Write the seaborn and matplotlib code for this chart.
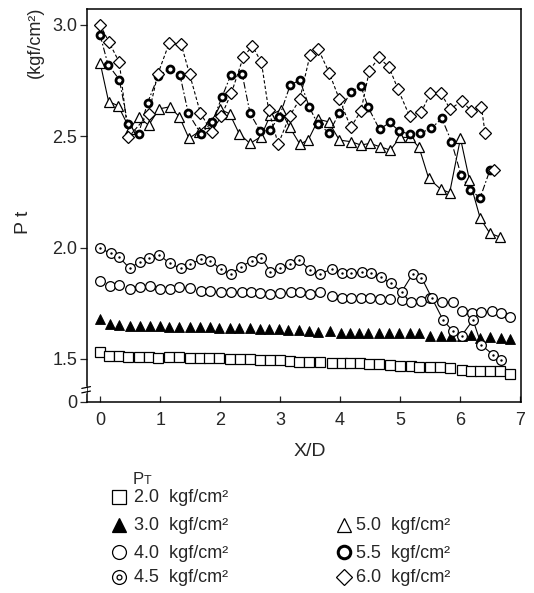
import numpy as np
import matplotlib
matplotlib.use("Agg")
import matplotlib.pyplot as plt
import matplotlib.transforms as mtransforms
import seaborn as sns

# P_T = 2.0 (open squares)
x_20 = [0.0, 0.14, 0.31, 0.47, 0.64, 0.81, 0.97, 1.14, 1.32, 1.49, 1.66, 1.82, 1.99, 2.16,
        2.33, 2.5, 2.67, 2.83, 3.0, 3.16, 3.32, 3.49, 3.66, 3.86, 4.03, 4.17, 4.33, 4.48,
        4.65, 4.83, 5.0, 5.18, 5.32, 5.5, 5.67, 5.83, 6.03, 6.18, 6.34, 6.5, 6.67, 6.83]
y_20 = [1.533, 1.513, 1.513, 1.510, 1.507, 1.507, 1.506, 1.507, 1.507, 1.506, 1.506, 1.503,
        1.503, 1.500, 1.498, 1.498, 1.495, 1.495, 1.495, 1.491, 1.488, 1.488, 1.485, 1.480,
        1.480, 1.480, 1.480, 1.478, 1.476, 1.473, 1.469, 1.469, 1.466, 1.466, 1.466, 1.461,
        1.451, 1.448, 1.446, 1.448, 1.448, 1.433]

# P_T = 3.0 (filled triangles)
x_30 = [0.0, 0.16, 0.32, 0.49, 0.66, 0.83, 1.0, 1.15, 1.31, 1.49, 1.67, 1.83, 1.99, 2.16,
        2.32, 2.5, 2.67, 2.82, 2.99, 3.14, 3.31, 3.49, 3.64, 3.84, 4.01, 4.16, 4.31, 4.47,
        4.65, 4.81, 4.98, 5.17, 5.32, 5.5, 5.69, 5.86, 6.03, 6.18, 6.34, 6.51, 6.68, 6.83]
y_30 = [1.679, 1.655, 1.652, 1.648, 1.648, 1.648, 1.648, 1.645, 1.645, 1.645, 1.642, 1.642,
        1.640, 1.637, 1.637, 1.637, 1.634, 1.634, 1.633, 1.630, 1.630, 1.626, 1.623, 1.627,
        1.618, 1.618, 1.615, 1.615, 1.615, 1.615, 1.615, 1.615, 1.615, 1.603, 1.603, 1.603,
        1.603, 1.607, 1.593, 1.597, 1.593, 1.589]

# P_T = 4.0 (open circles)
x_40 = [0.0, 0.16, 0.31, 0.49, 0.67, 0.83, 0.99, 1.16, 1.32, 1.49, 1.68, 1.83, 2.01, 2.18,
        2.36, 2.51, 2.67, 2.84, 3.0, 3.18, 3.33, 3.5, 3.66, 3.86, 4.04, 4.19, 4.35, 4.5,
        4.67, 4.84, 5.03, 5.19, 5.36, 5.51, 5.71, 5.88, 6.04, 6.21, 6.36, 6.53, 6.68, 6.83]
y_40 = [1.850, 1.827, 1.832, 1.812, 1.824, 1.827, 1.812, 1.812, 1.824, 1.817, 1.805, 1.805,
        1.802, 1.800, 1.802, 1.802, 1.797, 1.791, 1.794, 1.799, 1.802, 1.791, 1.800, 1.782,
        1.772, 1.772, 1.772, 1.772, 1.768, 1.768, 1.765, 1.757, 1.761, 1.772, 1.757, 1.754,
        1.717, 1.705, 1.712, 1.717, 1.705, 1.690]

# P_T = 4.5 (dotted circles, solid line)
x_45 = [0.0, 0.18, 0.32, 0.49, 0.67, 0.82, 0.98, 1.16, 1.34, 1.5, 1.68, 1.84, 2.01, 2.18,
        2.35, 2.53, 2.69, 2.84, 3.0, 3.17, 3.32, 3.5, 3.66, 3.86, 4.04, 4.19, 4.36, 4.52,
        4.68, 4.85, 5.03, 5.21, 5.36, 5.53, 5.72, 5.88, 6.03, 6.22, 6.36, 6.56, 6.69]
y_45 = [1.996, 1.974, 1.956, 1.907, 1.937, 1.954, 1.968, 1.929, 1.907, 1.925, 1.947, 1.941,
        1.902, 1.881, 1.914, 1.941, 1.954, 1.891, 1.907, 1.926, 1.944, 1.899, 1.880, 1.904,
        1.884, 1.884, 1.892, 1.887, 1.866, 1.839, 1.802, 1.880, 1.865, 1.775, 1.675, 1.626,
        1.605, 1.675, 1.562, 1.518, 1.494]

# P_T = 5.0 (open triangles, solid line)
x_50 = [0.0, 0.14, 0.30, 0.49, 0.64, 0.81, 0.98, 1.16, 1.32, 1.48, 1.65, 1.82, 2.0, 2.16,
        2.32, 2.5, 2.68, 2.84, 3.01, 3.16, 3.33, 3.47, 3.64, 3.81, 3.99, 4.18, 4.35, 4.5,
        4.67, 4.84, 5.0, 5.17, 5.32, 5.48, 5.68, 5.83, 6.01, 6.16, 6.34, 6.5, 6.67]
y_50 = [2.828, 2.655, 2.636, 2.533, 2.584, 2.549, 2.622, 2.631, 2.587, 2.490, 2.52, 2.56,
        2.62, 2.60, 2.51, 2.467, 2.497, 2.595, 2.617, 2.54, 2.464, 2.482, 2.575, 2.564,
        2.482, 2.475, 2.46, 2.467, 2.452, 2.437, 2.494, 2.494, 2.449, 2.31, 2.262, 2.246,
        2.49, 2.303, 2.131, 2.064, 2.047]

# P_T = 5.5 (bold circles, dash-dot line)
x_55 = [0.0, 0.13, 0.32, 0.46, 0.64, 0.79, 0.97, 1.16, 1.33, 1.47, 1.68, 1.87, 2.03, 2.18,
        2.37, 2.5, 2.67, 2.83, 2.99, 3.17, 3.33, 3.49, 3.63, 3.82, 3.99, 4.18, 4.35, 4.47,
        4.66, 4.83, 4.99, 5.17, 5.33, 5.52, 5.7, 5.86, 6.02, 6.17, 6.34, 6.5]
y_55 = [2.952, 2.821, 2.753, 2.556, 2.510, 2.649, 2.771, 2.801, 2.775, 2.602, 2.51, 2.564,
        2.674, 2.774, 2.777, 2.602, 2.522, 2.527, 2.587, 2.729, 2.751, 2.629, 2.554, 2.515,
        2.605, 2.699, 2.724, 2.629, 2.53, 2.561, 2.522, 2.508, 2.512, 2.534, 2.579, 2.475,
        2.325, 2.257, 2.224, 2.346]

# P_T = 6.0 (open diamonds, dashed line)
x_60 = [0.0, 0.15, 0.32, 0.47, 0.81, 0.96, 1.15, 1.35, 1.49, 1.67, 1.86, 2.02, 2.19, 2.39,
        2.54, 2.69, 2.81, 2.97, 3.16, 3.33, 3.5, 3.64, 3.82, 3.99, 4.18, 4.35, 4.49, 4.65,
        4.82, 4.97, 5.16, 5.36, 5.51, 5.68, 5.84, 6.03, 6.19, 6.36, 6.42]
y_60 = [2.998, 2.92, 2.83, 2.494, 2.60, 2.777, 2.916, 2.913, 2.779, 2.605, 2.517, 2.59,
        2.694, 2.856, 2.904, 2.83, 2.617, 2.464, 2.59, 2.665, 2.863, 2.889, 2.784, 2.665,
        2.539, 2.613, 2.793, 2.853, 2.808, 2.709, 2.59, 2.609, 2.694, 2.694, 2.62, 2.658,
        2.613, 2.629, 2.515]
x_60_extra = [6.57]
y_60_extra = [2.348]

x_ticks = [0, 1, 2, 3, 4, 5, 6, 7]
y_ticks = [1.5, 2.0, 2.5, 3.0]
y_zero = 1.307  # bottom of the broken axis, labelled 0

legend_left = ['2.0', '3.0', '4.0', '4.5']
legend_right = ['5.0', '5.5', '6.0']

sns.set_style('ticks')
plt.rcParams['font.family'] = ['Liberation Sans', 'DejaVu Sans']

W, H = 534, 593
fig = plt.figure(figsize=(W / 100, H / 100), dpi=100, facecolor='white')
ax = fig.add_axes([87 / W, 1 - 402 / H, (521 - 87) / W, (402 - 9) / H])

k = 'black'
# marker-only series
sns.lineplot(x=x_20, y=y_20, ax=ax, sort=False, estimator=None, linestyle='', marker='s',
             ms=6.5, mfc='white', mec=k, mew=0.9)
sns.lineplot(x=x_30, y=y_30, ax=ax, sort=False, estimator=None, linestyle='', marker='^',
             ms=6.5, mfc=k, mec=k, mew=0.6)
sns.lineplot(x=x_40, y=y_40, ax=ax, sort=False, estimator=None, linestyle='', marker='o',
             ms=7, mfc='white', mec=k, mew=0.9)
# line series
sns.lineplot(x=x_45, y=y_45, ax=ax, sort=False, estimator=None, color=k, lw=0.8,
             marker='o', ms=7, mfc='white', mec=k, mew=0.9)
sns.scatterplot(x=x_45, y=y_45, ax=ax, color=k, s=3, linewidth=0, zorder=5)
sns.lineplot(x=x_50, y=y_50, ax=ax, sort=False, estimator=None, color=k, lw=0.8,
             marker='^', ms=7.5, mfc='white', mec=k, mew=0.9)
sns.lineplot(x=x_55, y=y_55, ax=ax, sort=False, estimator=None, color=k, lw=0.8,
             dashes=(6, 2, 1.5, 2), marker='o', ms=5, mfc='white', mec=k, mew=2.0)
sns.lineplot(x=x_60, y=y_60, ax=ax, sort=False, estimator=None, color=k, lw=0.8,
             dashes=(3, 2), marker='D', ms=6, mfc='white', mec=k, mew=0.9)
sns.scatterplot(x=x_60_extra, y=y_60_extra, ax=ax, marker='D', s=36, facecolor='white',
                edgecolor=k, linewidth=0.9, zorder=6)

ax.set_xlim(-0.22, 7.02)
ax.set_ylim(y_zero, 3.07)
ax.set_xticks(x_ticks)
ax.set_xticklabels([str(t) for t in x_ticks])
ax.set_yticks([y_zero] + y_ticks)
ax.set_yticklabels(['0'] + [f'{t:.1f}' for t in y_ticks])
ax.tick_params(axis='x', direction='in', length=4, width=0.9, pad=7, labelsize=13)
ax.tick_params(axis='y', direction='out', length=5, width=0.9, pad=2, labelsize=13)
for s in ax.spines.values():
    s.set_linewidth(1.1)
    s.set_color(k)
ax.set_xlabel('')
ax.set_ylabel('')

# axis break on the y axis
tr = mtransforms.blended_transform_factory(ax.transAxes, ax.transData)
ax.plot([-0.004, -0.004], [1.352, 1.372], transform=tr, color='white', lw=3,
        clip_on=False, zorder=10)
for yb in (1.352, 1.372):
    ax.plot([-0.012, 0.008], [yb - 0.004, yb + 0.004], transform=tr, color=k, lw=0.9,
            clip_on=False, zorder=11)

fig.text(310 / W, 1 - 452 / H, 'X/D', ha='center', va='center', fontsize=14)
fig.text(24 / W, 1 - 222 / H, 'P t', ha='center', va='center', rotation=90, fontsize=14)
fig.text(35 / W, 1 - 42 / H, '(kgf/cm²)', ha='center', va='center', rotation=90, fontsize=13)

# legend drawn in pixel coordinates
lax = fig.add_axes([0, 0, 1, 1])
lax.set_xlim(0, W)
lax.set_ylim(H, 0)
lax.axis('off')
# legend title: P with a small T
lax.text(133, 484, 'P', ha='left', va='baseline', fontsize=12)
lax.text(144, 484, 'T', ha='left', va='baseline', fontsize=9)

rows = [497, 525, 552, 577]
left_style = [dict(marker='s', ms=10, mfc='white', mew=0.9),
              dict(marker='^', ms=10, mfc=k, mew=0.9),
              dict(marker='o', ms=10, mfc='white', mew=0.9),
              dict(marker='o', ms=10, mfc='white', mew=0.9)]
for lab, yy, st in zip(legend_left, rows, left_style):
    lax.plot([119], [yy], color=k, mec=k, linestyle='', **st)
    lax.text(134, yy + 1, f'{lab}  kgf/cm²', ha='left', va='center', fontsize=13)
lax.plot([119], [rows[3]], color=k, linestyle='', marker='o', ms=3.5, mfc='white', mec=k, mew=0.9)

right_style = [dict(marker='^', ms=10, mfc='white', mew=0.9),
               dict(marker='o', ms=9, mfc='white', mew=2.2),
               dict(marker='D', ms=8.5, mfc='white', mew=0.9)]
for lab, yy, st in zip(legend_right, rows[1:], right_style):
    lax.plot([344], [yy], color=k, mec=k, linestyle='', **st)
    lax.text(356, yy + 1, f'{lab}  kgf/cm²', ha='left', va='center', fontsize=13)

fig.savefig('out.png', dpi=100, facecolor='white')
